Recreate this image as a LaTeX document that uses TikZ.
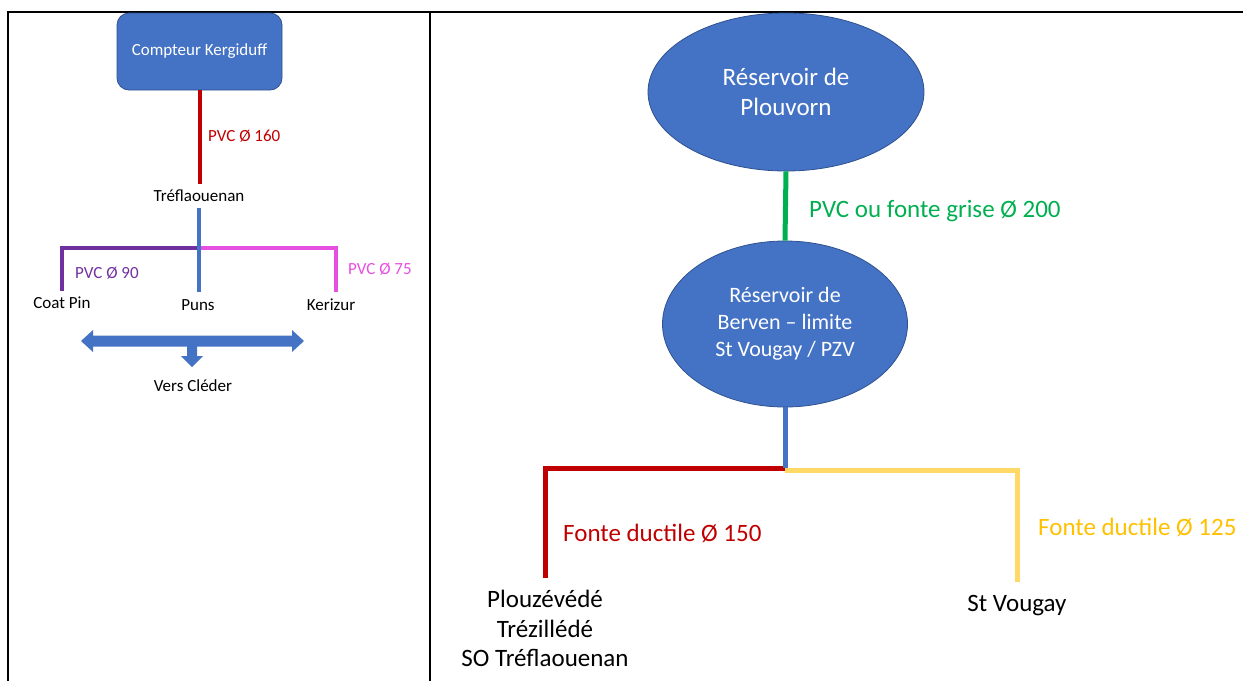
\documentclass[tikz,border=0pt]{standalone}
\usepackage{fontspec}
\setmainfont{Carlito}
\usetikzlibrary{shapes.geometric}
\definecolor{boxblue}{HTML}{4472C4}
\definecolor{boxedge}{HTML}{2F528F}
\definecolor{pred}{HTML}{C00000}
\definecolor{ppurple}{HTML}{7030A0}
\definecolor{ppink}{HTML}{E64FE0}
\definecolor{pgreen}{HTML}{00B050}
\definecolor{pyellow}{HTML}{FFD966}
\definecolor{tyellow}{HTML}{FFC000}
\tikzset{
  frameline/.style={line width=2pt, black},
  smallpipe/.style={line width=4pt},
  bigpipe/.style={line width=5pt},
  smalltxt/.style={font=\fontsize{17}{20}\selectfont, inner sep=0pt},
  bigtxt/.style={font=\fontsize{25}{29.5}\selectfont, inner sep=0pt, align=center},
  station/.style={ellipse, fill=boxblue, draw=boxedge, line width=0.8pt, text=white, inner sep=0pt, align=center},
}
\begin{document}
\begin{tikzpicture}[x=1pt,y=-1pt]
\useasboundingbox (0,0) rectangle (1244,681);
% table frame
\draw[frameline] (7,12) -- (1243,12);
\draw[frameline] (8,12) -- (8,681);
\draw[frameline] (430,12) -- (430,681);

% ---------- left panel ----------
\node[fill=boxblue, draw=boxedge, line width=0.8pt, rounded corners=12pt, minimum width=165pt, minimum height=77pt, text=white, font=\fontsize{17}{20}\selectfont, inner sep=0pt] (comp) at (199.5,51.5) {Compteur Kergiduff};
\node[smalltxt, minimum height=24pt] (tref) at (199,196) {Tréflaouenan};
\draw[smallpipe, pred] (comp.south) -- (comp.south |- tref.north);
\node[smalltxt, anchor=west, text=pred] (l160) at (208,136) {PVC Ø 160};

\coordinate (j1) at (199,248);
\node[smalltxt, minimum height=24pt] (coat) at (62,303) {Coat Pin};
\node[smalltxt, minimum height=26pt] (puns) at (198,305) {Puns};
\node[smalltxt, minimum height=26pt] (keri) at (331,305) {Kerizur};
\coordinate (kc) at (336,248);
\draw[smallpipe, ppurple] (j1) -- (j1 -| coat) -- (coat.north);
\draw[smallpipe, ppink] (j1) -- (kc) -- (kc |- keri.north);
\draw[smallpipe, boxblue] (j1 |- tref.south) -- (j1 |- puns.north);
\node[smalltxt, anchor=west, text=ppurple] (l90) at (75,273) {PVC Ø 90};
\node[smalltxt, anchor=west, text=ppink] (l75) at (348,269) {PVC Ø 75};

% block arrow
\fill[boxblue] (81,341) -- (93,330) -- (93,335.5) -- (292,335.5) -- (292,330) -- (304,341) -- (292,352) -- (292,346.5) -- (197,346.5) -- (197,356) -- (203,356) -- (192,367) -- (181,356) -- (187,356) -- (187,346.5) -- (93,346.5) -- (93,352) -- cycle;
\node[smalltxt] (cleder) at (193,386) {Vers Cléder};

% ---------- right panel ----------
\node[station, minimum width=276pt, minimum height=158pt, font=\fontsize{25}{30}\selectfont] (res1) at (786,92) {Réservoir de\\Plouvorn};
\node[station, minimum width=245pt, minimum height=166pt, font=\fontsize{22}{27}\selectfont] (res2) at (785,324) {Réservoir de\\Berven – limite\\St Vougay / PZV};
\draw[bigpipe, pgreen] (res1.south) -- (res2.north);
\node[bigtxt, anchor=west, text=pgreen] (l200) at (809,211) {PVC ou fonte grise Ø 200};

\coordinate (j2) at (785,468);
\node[bigtxt, anchor=north] (ploz) at (545,590) {Plouzévédé\\Trézillédé\\SO Tréflaouenan};
\node[bigtxt, anchor=north] (vougay) at (1017,595) {St Vougay};
\coordinate (rc) at (545,468);
\coordinate (yc) at (1017,470);
\coordinate (re) at (545,578);
\coordinate (ye) at (1017,582);
\draw[bigpipe, pred, line join=miter] (j2) -- (rc) -- (re);
\draw[bigpipe, pyellow, line join=miter] (j2 |- yc) -- (yc) -- (ye);
\draw[bigpipe, boxblue] (res2.south) -- (j2);
\node[bigtxt, anchor=west, text=pred] (l150) at (563,533) {Fonte ductile Ø 150};
\node[bigtxt, anchor=west, text=tyellow] (l125) at (1038,527) {Fonte ductile Ø 125};
\end{tikzpicture}
\end{document}
